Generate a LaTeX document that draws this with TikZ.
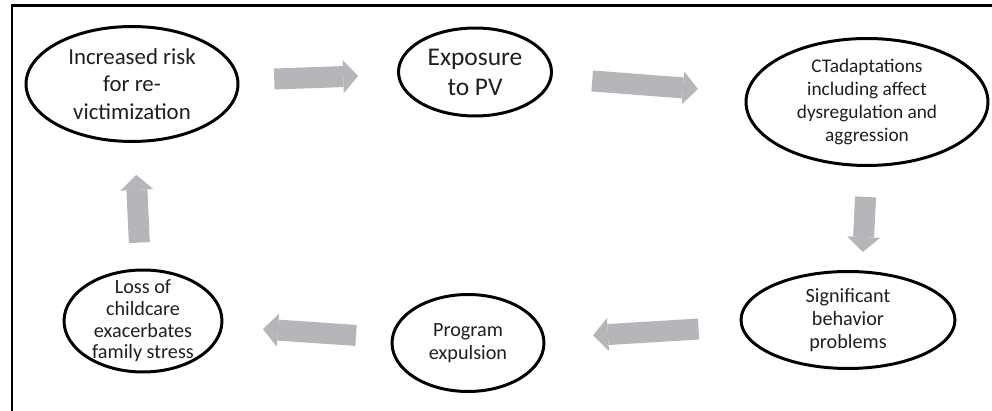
\documentclass[tikz,border=0pt]{standalone}
\usepackage{fontspec}
\setmainfont{Carlito}
\usepackage{xcolor}
\usetikzlibrary{arrows.meta, shapes.geometric}
\definecolor{arrgray}{RGB}{180,182,185}
\tikzset{
  stage/.style={ellipse, draw=black, line width=1.7pt, text=black!88,
                inner sep=0pt, align=center},
  fatarr/.style={draw=arrgray, line width=0.42cm,
                 -{Triangle[length=0.3cm, width=0.66cm, line width=0pt]}},
  frameline/.style={draw=black, line width=0.06cm},
}

\begin{document}
\begin{tikzpicture}[x=0.02cm, y=-0.02cm]
  \useasboundingbox (0,0) rectangle (992,411);
  %% frame
  \draw[frameline] (12,411) -- (12,6) -- (992,6);
  %% top row
  \node[stage, minimum width=4.24cm, minimum height=2.3cm,
        font=\fontsize{13}{15.5}\selectfont] (risk) at (132,84)
        {Increased risk\\for re-\\victimization};
  \node[stage, minimum width=3.06cm, minimum height=1.76cm,
        font=\fontsize{14.5}{17}\selectfont] (expo) at (475,72)
        {Exposure\\to PV};
  \node[stage, minimum width=4.84cm, minimum height=2.54cm,
        font=\fontsize{11}{13}\selectfont] (adapt) at (867,102)
        {CTadaptations\\including affect\\dysregulation and\\aggression};
  %% bottom row
  \node[stage, minimum width=4.28cm, minimum height=1.94cm,
        font=\fontsize{11.5}{13}\selectfont] (behav) at (848,320)
        {Significant\\behavior\\problems};
  \node[stage, minimum width=3.04cm, minimum height=1.94cm,
        font=\fontsize{11.5}{13}\selectfont] (expel) at (468,343)
        {Program\\expulsion};
  \node[stage, minimum width=3.16cm, minimum height=2.04cm, inner ysep=-4pt,
        font=\fontsize{11.5}{12.3}\selectfont] (loss) at (143,321)
        {Loss of\\childcare\\exacerbates\\family stress};
  %% cycle arrows
  \foreach \a/\b/\s/\e in {risk/expo/0.7cm/0.78cm, expo/adapt/0.8cm/0.96cm,
      behav/expel/0.84cm/0.96cm, expel/loss/0.7cm/0.8cm, loss/risk/0.52cm/0.64cm}
    \draw[fatarr, shorten <=\s, shorten >=\e] (\a) -- (\b);
  \draw[fatarr, shorten <=0.6cm, shorten >=0.36cm]
    (adapt.south) -- ([xshift=0.28cm]behav.north);
\end{tikzpicture}
\end{document}
